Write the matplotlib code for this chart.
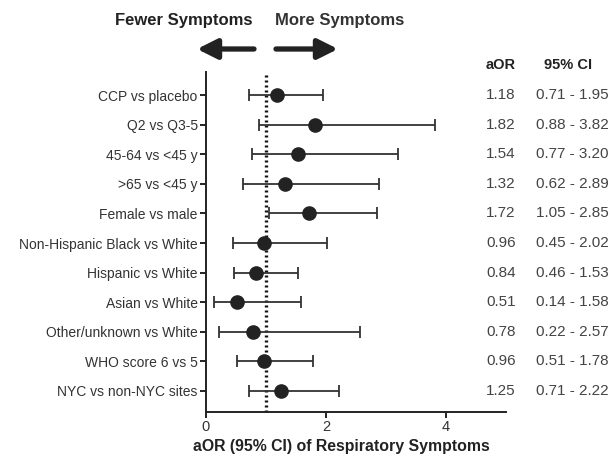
import matplotlib
matplotlib.use("Agg")
import matplotlib.pyplot as plt

labels = ["CCP vs placebo", "Q2 vs Q3-5", "45-64 vs <45 y", ">65 vs <45 y",
          "Female vs male", "Non-Hispanic Black vs White", "Hispanic vs White",
          "Asian vs White", "Other/unknown vs White", "WHO score 6 vs 5",
          "NYC vs non-NYC sites"]
aor = [1.18, 1.82, 1.54, 1.32, 1.72, 0.96, 0.84, 0.51, 0.78, 0.96, 1.25]
ci_low = [0.71, 0.88, 0.77, 0.62, 1.05, 0.45, 0.46, 0.14, 0.22, 0.51, 0.71]
ci_high = [1.95, 3.82, 3.20, 2.89, 2.85, 2.02, 1.53, 1.58, 2.57, 1.78, 2.22]
xticks = [0, 2, 4]

plt.rcParams['font.family'] = ['Liberation Sans', 'DejaVu Sans']

W, H = 610, 458
fig = plt.figure(figsize=(W/100, H/100), dpi=100)
ax = fig.add_axes([206/W, 1-412/H, 300/W, 340/H])

ys = list(range(len(labels)))
err = [[a - l for a, l in zip(aor, ci_low)], [h - a for a, h in zip(aor, ci_high)]]
ax.axvline(1, color='#111111', lw=2.4, linestyle=(0, (0.6, 0.9)), zorder=1)
ax.errorbar(aor, ys, xerr=err, fmt='o', color='#222222', ecolor='#333333',
            elinewidth=1.3, capsize=4, capthick=1.3, markersize=9.5, zorder=3)

ax.set_xlim(0, 5)
ax.set_ylim(10.71, -0.78)
ax.set_yticks(ys)
ax.set_yticklabels(labels, fontsize=10, color='#333333')
ax.set_xticks(xticks)
ax.set_xticklabels([str(t) for t in xticks], fontsize=10.5, color='#333333')
for s in ['top', 'right']:
    ax.spines[s].set_visible(False)
for s in ['left', 'bottom']:
    ax.spines[s].set_linewidth(1.4)
    ax.spines[s].set_color('#222222')
ax.tick_params(axis='both', length=4, width=1.4, color='#222222', pad=2)

def fx(x):
    return x / W

def fy(y):
    return 1 - y / H

fig.text(fx(341), fy(447), "aOR (95% CI) of Respiratory Symptoms", ha='center',
         va='center', fontsize=11.4, fontweight='bold', color='#222222')
fig.text(fx(183.5), fy(20), "Fewer Symptoms", ha='center', va='center',
         fontsize=12, fontweight='bold', color='#222222')
fig.text(fx(340), fy(20), "More Symptoms", ha='center', va='center',
         fontsize=12, fontweight='bold', color='#333333')

arrow_kw = dict(arrowstyle='-|>,head_length=1.0,head_width=0.5', lw=3.8, color='#222222',
                shrinkA=0, shrinkB=0)
fig.add_artist(matplotlib.patches.FancyArrowPatch((fx(254), fy(49)), (fx(197), fy(49)),
               transform=fig.transFigure, mutation_scale=12, **arrow_kw))
fig.add_artist(matplotlib.patches.FancyArrowPatch((fx(276), fy(49)), (fx(338), fy(49)),
               transform=fig.transFigure, mutation_scale=12, **arrow_kw))

fig.text(fx(501), fy(65), "aOR", ha='center', va='center', fontsize=10.5,
         fontweight='bold', color='#222222')
fig.text(fx(568), fy(65), "95% CI", ha='center', va='center', fontsize=10.5,
         fontweight='bold', color='#222222')

for i, (a, l, h) in enumerate(zip(aor, ci_low, ci_high)):
    ydisp = ax.transData.transform((0, i))[1]
    yf = ydisp / H
    fig.text(fx(501), yf, f"{a:.2f}", ha='center', va='center', fontsize=11, color='#444444')
    fig.text(fx(572), yf, f"{l:.2f} - {h:.2f}", ha='center', va='center', fontsize=11,
             color='#444444')

fig.savefig("out.png", dpi=100)
